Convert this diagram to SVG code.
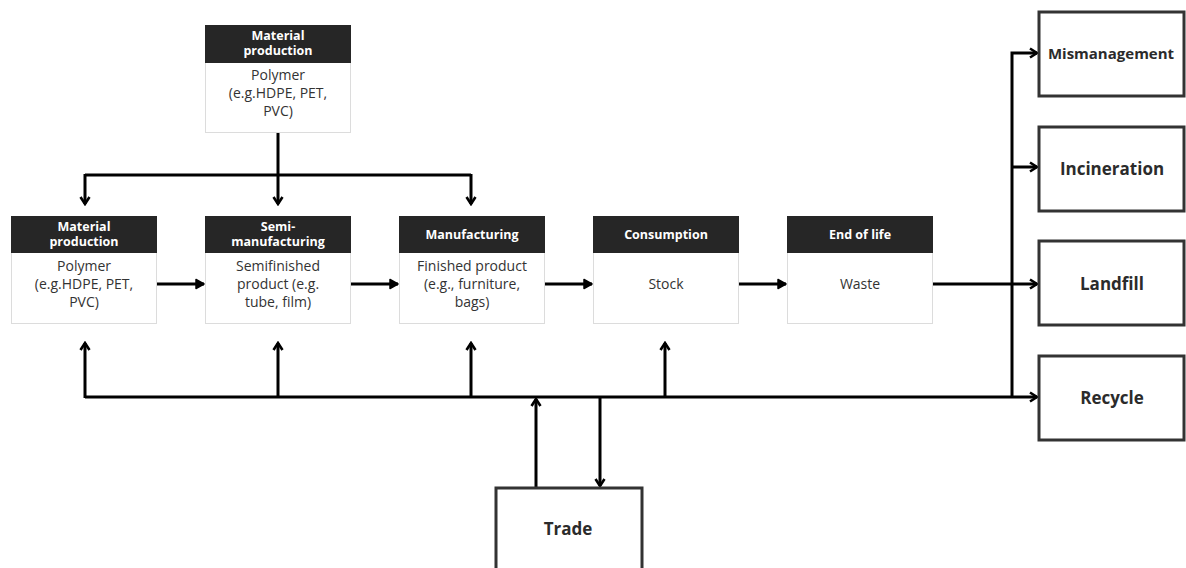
<svg xmlns="http://www.w3.org/2000/svg" width="1186" height="568" viewBox="0 0 1186 568">
<style>
.hd{fill:#262626}
.bd{fill:#fff;stroke:#dcdcdc;stroke-width:1}
.ht{font-family:"Open Sans",sans-serif;font-weight:700;font-size:12.5px;fill:#fff;text-anchor:middle}
.bt{font-family:"Open Sans",sans-serif;font-size:14px;fill:#333;text-anchor:middle}
.ob{fill:#fff;stroke:#333;stroke-width:3}
.ot{font-family:"Open Sans",sans-serif;font-weight:700;font-size:17px;fill:#2b2b2b;text-anchor:middle}
.ln{fill:none;stroke:#000;stroke-width:3}
</style>
<defs>
<marker id="arr" viewBox="0 0 12 12" refX="10" refY="6" markerWidth="12" markerHeight="12" markerUnits="userSpaceOnUse" orient="auto">
<path d="M3,1.5 L10,6 L3,10.5" fill="none" stroke="#000" stroke-width="2.6"/>
</marker>
<marker id="arrf" viewBox="0 0 12 12" refX="11" refY="6" markerWidth="12" markerHeight="12" markerUnits="userSpaceOnUse" orient="auto">
<path d="M3,1.5 L11,6 L3,10.5 Z" fill="#000" stroke="#000" stroke-width="1.5" stroke-linejoin="round"/>
</marker>
</defs>
<rect width="1186" height="568" fill="#fff"/>

<g id="connectors">
<path class="ln" d="M278,132 V175"/>
<path class="ln" d="M85,175 H471"/>
<path class="ln" d="M85,174 V204" marker-end="url(#arr)"/>
<path class="ln" d="M278,175 V204" marker-end="url(#arr)"/>
<path class="ln" d="M471,174 V204" marker-end="url(#arr)"/>
<path class="ln" d="M157,284 H204" marker-end="url(#arrf)"/>
<path class="ln" d="M351,284 H398" marker-end="url(#arrf)"/>
<path class="ln" d="M545,284 H592" marker-end="url(#arrf)"/>
<path class="ln" d="M739,284 H786" marker-end="url(#arrf)"/>
<path class="ln" d="M933,284 H1037" marker-end="url(#arr)"/>
<path class="ln" d="M85,397 H1037" marker-end="url(#arr)"/>
<path class="ln" d="M1012,398 V53 H1037" marker-end="url(#arr)"/>
<path class="ln" d="M1012,167 H1037" marker-end="url(#arr)"/>
<path class="ln" d="M85,398 V343" marker-end="url(#arr)"/>
<path class="ln" d="M278,397 V343" marker-end="url(#arr)"/>
<path class="ln" d="M471,397 V343" marker-end="url(#arr)"/>
<path class="ln" d="M665,397 V343" marker-end="url(#arr)"/>
<path class="ln" d="M536,487 V399" marker-end="url(#arr)"/>
<path class="ln" d="M600,397 V486" marker-end="url(#arr)"/>
</g>

<g id="top-material">
<rect class="bd" x="205.5" y="25.5" width="145" height="107"/>
<rect class="hd" x="205" y="25" width="146" height="38"/>
<text class="ht" x="278" y="40">Material</text>
<text class="ht" x="278" y="55">production</text>
<text class="bt" x="278" y="80">Polymer</text>
<text class="bt" x="278" y="98">(e.g.HDPE, PET,</text>
<text class="bt" x="278" y="116">PVC)</text>
</g>

<g id="material">
<rect class="bd" x="11.5" y="216.5" width="145" height="107"/>
<rect class="hd" x="11" y="216" width="146" height="37"/>
<text class="ht" x="84" y="231">Material</text>
<text class="ht" x="84" y="246">production</text>
<text class="bt" x="84" y="271">Polymer</text>
<text class="bt" x="84" y="289">(e.g.HDPE, PET,</text>
<text class="bt" x="84" y="307">PVC)</text>
</g>

<g id="semi">
<rect class="bd" x="205.5" y="216.5" width="145" height="107"/>
<rect class="hd" x="205" y="216" width="146" height="37"/>
<text class="ht" x="278" y="231">Semi-</text>
<text class="ht" x="278" y="246">manufacturing</text>
<text class="bt" x="278" y="271">Semifinished</text>
<text class="bt" x="278" y="289">product (e.g.</text>
<text class="bt" x="278" y="307">tube, film)</text>
</g>

<g id="manufacturing">
<rect class="bd" x="399.5" y="216.5" width="145" height="107"/>
<rect class="hd" x="399" y="216" width="146" height="37"/>
<text class="ht" x="472" y="239">Manufacturing</text>
<text class="bt" x="472" y="271">Finished product</text>
<text class="bt" x="472" y="289">(e.g., furniture,</text>
<text class="bt" x="472" y="307">bags)</text>
</g>

<g id="consumption">
<rect class="bd" x="593.5" y="216.5" width="145" height="107"/>
<rect class="hd" x="593" y="216" width="146" height="37"/>
<text class="ht" x="666" y="239">Consumption</text>
<text class="bt" x="666" y="289">Stock</text>
</g>

<g id="endoflife">
<rect class="bd" x="787.5" y="216.5" width="145" height="107"/>
<rect class="hd" x="787" y="216" width="146" height="37"/>
<text class="ht" x="860" y="239">End of life</text>
<text class="bt" x="860" y="289">Waste</text>
</g>

<g id="mismanagement">
<rect class="ob" x="1039" y="12" width="145" height="84"/>
<text class="ot" x="1111" y="59" style="font-size:15px">Mismanagement</text>
</g>
<g id="incineration">
<rect class="ob" x="1039" y="127" width="145" height="84"/>
<text class="ot" x="1112" y="175">Incineration</text>
</g>
<g id="landfill">
<rect class="ob" x="1039" y="241" width="145" height="84"/>
<text class="ot" x="1112" y="290">Landfill</text>
</g>
<g id="recycle">
<rect class="ob" x="1039" y="356" width="145" height="84"/>
<text class="ot" x="1112" y="404">Recycle</text>
</g>
<g id="trade">
<rect class="ob" x="496" y="488" width="146" height="90"/>
<text class="ot" x="568" y="535">Trade</text>
</g>
</svg>
